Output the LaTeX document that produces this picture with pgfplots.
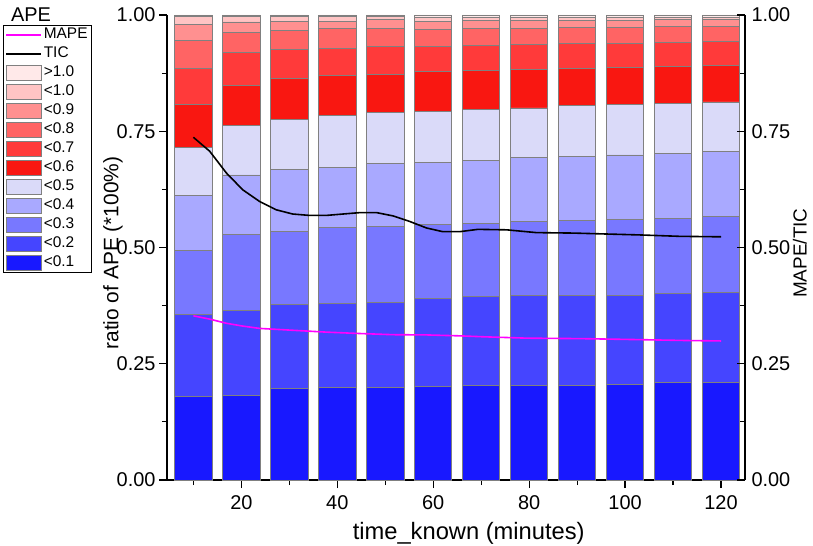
\documentclass[border=0pt]{standalone}
\usepackage{pgfplots}
\pgfplotsset{compat=1.18}
\usepackage{pgfplotstable}
\usepackage{fontspec}
\setmainfont{Liberation Sans}

\definecolor{c1}{HTML}{1818FF}
\definecolor{c2}{HTML}{4545FF}
\definecolor{c3}{HTML}{7878FF}
\definecolor{c4}{HTML}{A9A9FF}
\definecolor{c5}{HTML}{DADAF9}
\definecolor{c6}{HTML}{F91711}
\definecolor{c7}{HTML}{FF3A3A}
\definecolor{c8}{HTML}{FF6464}
\definecolor{c9}{HTML}{FF9090}
\definecolor{c10}{HTML}{FFC4C4}
\definecolor{c11}{HTML}{FFE9E9}
\definecolor{edge}{HTML}{808080}
\definecolor{mag}{RGB}{255,0,255}

% cumulative upper boundary of each APE class
\pgfplotstableread{
x   c1    c2    c3    c4    c5    c6    c7    c8    c9    c10   c11
10  0.180 0.356 0.494 0.611 0.715 0.807 0.884 0.945 0.980 0.997 1.0
20  0.182 0.364 0.529 0.656 0.762 0.849 0.919 0.962 0.985 0.996 1.0
30  0.197 0.378 0.535 0.667 0.775 0.863 0.925 0.966 0.987 0.996 1.0
40  0.199 0.380 0.544 0.673 0.784 0.869 0.929 0.971 0.987 0.997 1.0
50  0.199 0.382 0.546 0.680 0.791 0.873 0.932 0.971 0.990 0.997 1.0
60  0.201 0.390 0.550 0.682 0.792 0.878 0.932 0.968 0.987 0.994 1.0
70  0.203 0.394 0.551 0.688 0.796 0.880 0.934 0.971 0.988 0.994 1.0
80  0.203 0.397 0.555 0.693 0.800 0.882 0.936 0.972 0.988 0.994 1.0
90  0.203 0.397 0.559 0.695 0.805 0.884 0.938 0.973 0.989 0.994 1.0
100 0.205 0.397 0.561 0.699 0.807 0.887 0.938 0.973 0.989 0.994 1.0
110 0.209 0.401 0.563 0.703 0.809 0.890 0.941 0.975 0.990 0.994 1.0
120 0.209 0.403 0.566 0.706 0.813 0.892 0.943 0.975 0.990 0.994 1.0
}\cum

\pgfplotsset{
  legline/.style={legend image code/.code={\draw[##1] (0bp,0bp) -- (35bp,0bp);}},
  legrect/.style={legend image code/.code={\draw[##1] (0bp,-7.5bp) rectangle (35bp,7.5bp);}},
  seg/.style={ybar, bar width=7.8, bar shift=0pt, legrect, draw=edge, line width=0.9bp, fill=#1},
}

\begin{document}
\begin{tikzpicture}
\begin{axis}[
  name=main, at={(0,0)}, anchor=south west,
  scale only axis, width=578bp, height=465bp,
  xmin=4.5, xmax=125, ymin=0, ymax=1,
  axis y line*=left, axis x line*=bottom,
  axis line style={line width=1.6bp, black},
  xtick={20,40,...,120}, minor xtick={10,30,...,110},
  ytick={0,0.25,0.5,0.75,1}, minor ytick={0.125,0.375,0.625,0.875},
  tick align=outside,
  major tick length=8bp, minor tick length=5bp,
  every tick/.style={black, line width=1.2bp},
  /pgf/number format/assume math mode=true,
  tick label style={font=\fontsize{20}{24}\selectfont},
  yticklabel style={/pgf/number format/fixed, /pgf/number format/fixed zerofill, /pgf/number format/precision=2},
  xticklabel style={yshift=-4bp},
  xlabel={time\_known (minutes)},
  ylabel={ratio of APE (*100\%)},
  xlabel style={font=\fontsize{23.8}{28}\selectfont, at={(axis description cs:0.522,-0.114)}, anchor=center},
  ylabel style={font=\fontsize{21}{25}\selectfont, at={(axis description cs:-0.0934,0.488)}, anchor=center},
  legend style={at={(axis description cs:-0.1298,0.9785)}, anchor=north east, draw=black, line width=0.8bp,
    font=\fontsize{15.5}{18}\selectfont, row sep=1bp, inner xsep=2bp, inner ysep=0.5bp,
    nodes={inner sep=2bp, text height=11bp, text depth=3bp}},
  legend cell align=left,
  clip=false,
]
\addlegendimage{legline, mag, line width=1.6bp}
\addlegendentry{MAPE}
\addlegendimage{legline, black, line width=1.6bp}
\addlegendentry{TIC}
\addplot[seg=c11] table[x=x,y=c11]{\cum}; \addlegendentry{>1.0}
\addplot[seg=c10] table[x=x,y=c10]{\cum}; \addlegendentry{<1.0}
\addplot[seg=c9]  table[x=x,y=c9]{\cum};  \addlegendentry{<0.9}
\addplot[seg=c8]  table[x=x,y=c8]{\cum};  \addlegendentry{<0.8}
\addplot[seg=c7]  table[x=x,y=c7]{\cum};  \addlegendentry{<0.7}
\addplot[seg=c6]  table[x=x,y=c6]{\cum};  \addlegendentry{<0.6}
\addplot[seg=c5]  table[x=x,y=c5]{\cum};  \addlegendentry{<0.5}
\addplot[seg=c4]  table[x=x,y=c4]{\cum};  \addlegendentry{<0.4}
\addplot[seg=c3]  table[x=x,y=c3]{\cum};  \addlegendentry{<0.3}
\addplot[seg=c2]  table[x=x,y=c2]{\cum};  \addlegendentry{<0.2}
\addplot[seg=c1]  table[x=x,y=c1]{\cum};  \addlegendentry{<0.1}
\node[font=\fontsize{20}{24}\selectfont, anchor=center] at (axis description cs:-0.2353,1.001) {APE};
\end{axis}
\begin{axis}[
  at={(0,0)}, anchor=south west,
  scale only axis, width=578bp, height=465bp,
  xmin=4.5, xmax=125, ymin=0, ymax=1,
  axis y line*=right, axis x line=none,
  axis line style={line width=1.6bp, black},
  ytick={0,0.25,0.5,0.75,1}, minor ytick={0.125,0.375,0.625,0.875},
  tick align=inside,
  major tick length=8bp, minor tick length=5bp,
  every tick/.style={black, line width=1.2bp},
  /pgf/number format/assume math mode=true,
  tick label style={font=\fontsize{20}{24}\selectfont},
  yticklabel style={/pgf/number format/fixed, /pgf/number format/fixed zerofill, /pgf/number format/precision=2, xshift=3bp},
  ylabel={MAPE/TIC},
  ylabel style={font=\fontsize{19}{23}\selectfont, at={(axis description cs:1.095,0.488)}, anchor=center},
  clip=false,
]
\addplot[mag, line width=1.6bp] coordinates {
(10,0.353)(13.4,0.346)(16.9,0.337)(20.3,0.331)(23.8,0.326)(30.7,0.322)(37.7,0.318)
(44.7,0.315)(51.6,0.3125)(58.6,0.312)(65.5,0.310)(70.4,0.308)(79.6,0.305)(90.9,0.304)
(102.2,0.302)(112.6,0.300)(120,0.299)};
\addplot[black, line width=1.6bp] coordinates {
(10,0.737)(13.4,0.707)(16.9,0.660)(20.3,0.624)(23.8,0.599)(27.3,0.581)(30.7,0.572)
(34.2,0.569)(37.7,0.569)(41.2,0.572)(44.7,0.575)(48.2,0.575)(51.6,0.568)(55.1,0.556)
(58.6,0.542)(62.0,0.534)(65.5,0.534)(69.3,0.539)(75.3,0.538)(81.5,0.532)(89.2,0.531)
(96.1,0.529)(103.1,0.527)(111.4,0.524)(120,0.523)};
\end{axis}
\pgfresetboundingbox
\path (main.south west) ++(-167bp,-66bp) rectangle ++(813bp,546bp);
\end{tikzpicture}
\end{document}
